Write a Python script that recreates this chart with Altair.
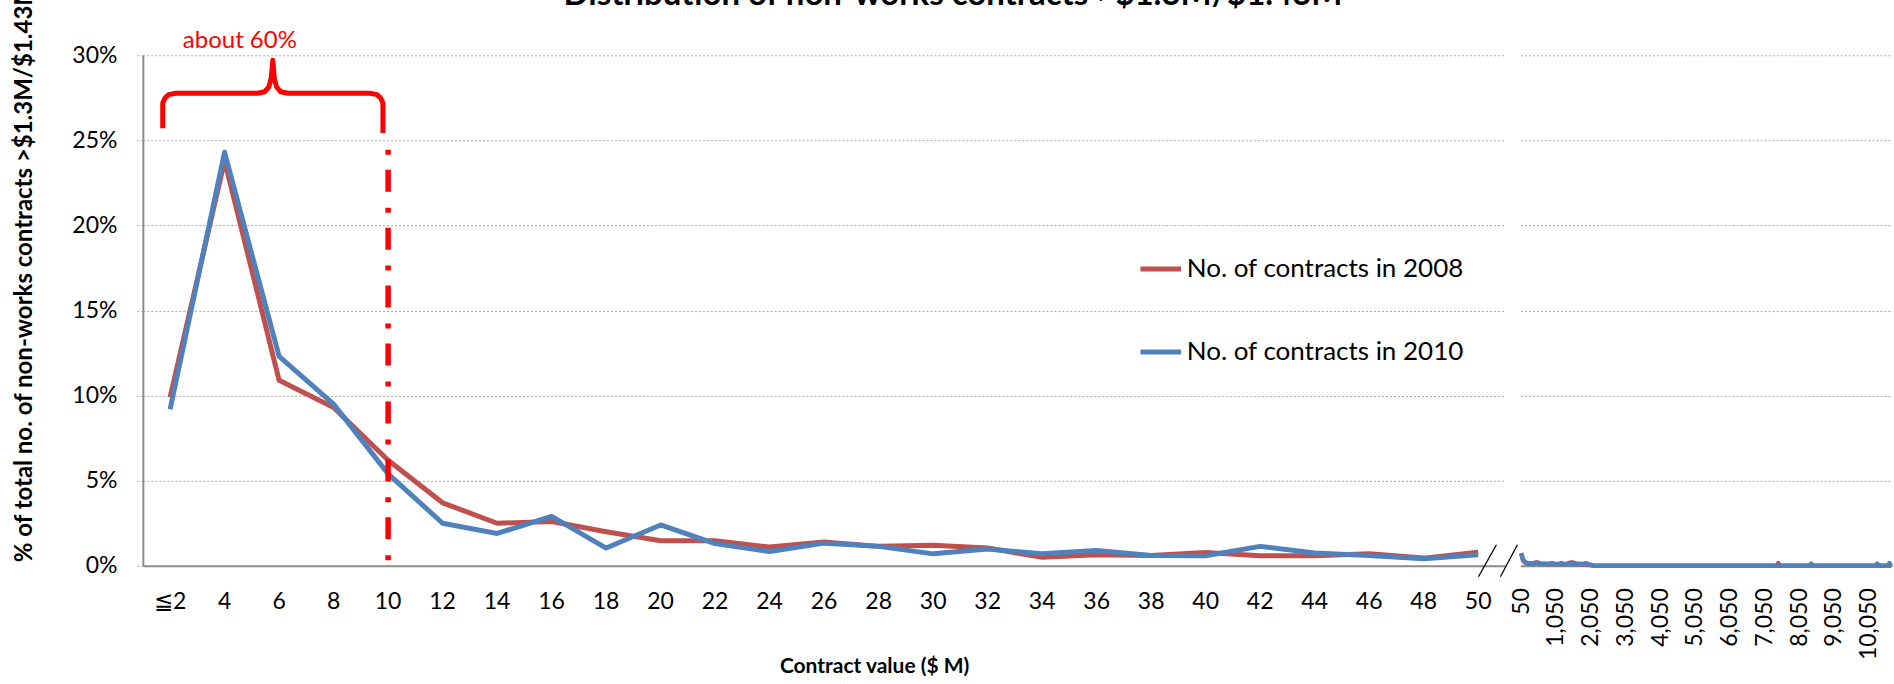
import altair as alt
import pandas as pd

SERIES = ["No. of contracts in 2008", "No. of contracts in 2010"]
COLORS = ["#C0504D", "#4F81BD"]
FONT = "Lato"

# Contract value bins up to $50M (upper bound of each bin, $M)
bins_m = [2, 4, 6, 8, 10, 12, 14, 16, 18, 20, 22, 24, 26, 28, 30,
          32, 34, 36, 38, 40, 42, 44, 46, 48, 50]
# Share of all non-works contracts above the threshold (%)
pct_2008 = [9.9, 23.8, 10.9, 9.3, 6.2, 3.7, 2.5, 2.6, 2.0, 1.47, 1.47, 1.1, 1.4,
            1.14, 1.2, 1.04, 0.5, 0.65, 0.6, 0.78, 0.59, 0.59, 0.7, 0.45, 0.8]
pct_2010 = [9.2, 24.3, 12.3, 9.5, 5.4, 2.5, 1.9, 2.9, 1.04, 2.4, 1.3, 0.84, 1.33,
            1.14, 0.7, 0.98, 0.7, 0.9, 0.6, 0.59, 1.14, 0.75, 0.6, 0.41, 0.65]

# Long tail above $50M, in $50M bins
tail_bins = list(range(50, 10701, 50))
tail_head_2008 = [0.75, 0.32, 0.20, 0.15, 0.12, 0.12, 0.10, 0.10, 0.15, 0.20,
                  0.18, 0.12, 0.10, 0.10, 0.12, 0.10, 0.08, 0.10, 0.12, 0.10,
                  0.08, 0.10, 0.10, 0.08, 0.10, 0.08, 0.10, 0.12, 0.18, 0.20,
                  0.18, 0.15, 0.10, 0.08, 0.10, 0.08, 0.08, 0.10, 0.06, 0.05,
                  0.04, 0.03]
tail_head_2010 = [0.70, 0.38, 0.22, 0.18, 0.15, 0.15, 0.12, 0.15, 0.18, 0.15,
                  0.12, 0.12, 0.10, 0.12, 0.10, 0.10, 0.12, 0.15, 0.15, 0.12,
                  0.10, 0.08, 0.12, 0.15, 0.12, 0.10, 0.10, 0.12, 0.10, 0.10,
                  0.10, 0.08, 0.10, 0.12, 0.10, 0.10, 0.12, 0.15, 0.12, 0.08,
                  0.05, 0.02]
tail_spikes_2008 = {7450: 0.15}
tail_spikes_2010 = {8400: 0.12, 10300: 0.12, 10650: 0.15}
tail_ticks = [50, 1050, 2050, 3050, 4050, 5050, 6050, 7050, 8050, 9050, 10050]

# Curly brace over the bins up to $10M (x in $M, y in %)
brace_x = [1.73, 1.73, 1.81, 1.95, 2.21, 5.22, 5.47, 5.62, 5.71, 5.77,
           5.82, 5.91, 6.06, 6.32, 9.33, 9.59, 9.73, 9.81, 9.81]
brace_y = [25.72, 27.19, 27.48, 27.69, 27.77, 27.77, 27.86, 28.13, 28.66, 29.71,
           28.66, 28.13, 27.86, 27.77, 27.77, 27.69, 27.48, 27.19, 25.43]


def tail_series(head, spikes):
    return [head[i] if i < len(head) else spikes.get(b, 0.0)
            for i, b in enumerate(tail_bins)]


left_df = pd.DataFrame({
    "bin": bins_m * 2,
    "pct": pct_2008 + pct_2010,
    "series": [SERIES[0]] * len(bins_m) + [SERIES[1]] * len(bins_m),
})
right_df = pd.DataFrame({
    "bin": tail_bins * 2,
    "pct": tail_series(tail_head_2008, tail_spikes_2008)
    + tail_series(tail_head_2010, tail_spikes_2010),
    "series": [SERIES[0]] * len(tail_bins) + [SERIES[1]] * len(tail_bins),
})
cut_df = pd.DataFrame({"bin": [10], "pct": [24.45], "pct_end": [0.0]})
brace_df = pd.DataFrame({"k": list(range(len(brace_x))), "bx": brace_x, "pct": brace_y})
note_df = pd.DataFrame({"bx": [4.56], "pct": [30.4], "label": ["about 60%"]})
one_row = pd.DataFrame({"a": [0]})

GRID = dict(grid=True, gridColor="#A6A6A6", gridDash=[2, 2], gridWidth=1)
y_scale = alt.Scale(domain=[0, 30], nice=False, zero=True)
brace_scale = alt.Scale(domain=[1, 51], nice=False, zero=False)
pct_ticks = [0, 5, 10, 15, 20, 25, 30]

color_left = alt.Color(
    "series:N",
    scale=alt.Scale(domain=SERIES, range=COLORS),
    legend=alt.Legend(
        title=None, orient="none", legendX=996, legendY=191,
        symbolType="stroke", symbolSize=1650, symbolStrokeWidth=5,
        labelFont=FONT, labelFontSize=26, labelColor="#000000", labelLimit=0,
        labelOffset=3, rowPadding=47,
    ),
)

lines_left = alt.Chart(left_df).mark_line(strokeWidth=5, strokeJoin="round").encode(
    x=alt.X("bin:O", title="Contract value ($ M)",
            axis=alt.Axis(labelExpr="datum.value == 2 ? '≦2' : datum.label",
                          labelAngle=0, labelFontSize=23, labelPadding=25,
                          ticks=False, domainColor="#8C8C8C", domainWidth=2,
                          titleFontSize=21, titleFontWeight="bold",
                          titleX=732, titleY=101, titleBaseline="middle",
                          titleAlign="center")),
    y=alt.Y("pct:Q", scale=y_scale,
            title="% of total no. of non-works contracts >$1.3M/$1.43M",
            axis=alt.Axis(values=pct_ticks, labelExpr="datum.value + '%'",
                          labelFontSize=23, labelPadding=18,
                          tickSize=8, tickColor="#A6A6A6", tickDash=[2, 2],
                          domainColor="#8C8C8C", domainWidth=2,
                          titleFontSize=24, titleFontWeight="bold",
                          titleAngle=270, titleAlign="left", titleBaseline="middle",
                          titleX=-118, titleY=507, **GRID)),
    color=color_left,
)

cutoff = alt.Chart(cut_df).mark_rule(
    color="#FF0000", strokeWidth=5.5, strokeDash=[5, 15, 22, 16]
).encode(x="bin:O", y="pct:Q", y2="pct_end:Q")

brace = alt.Chart(brace_df).mark_line(
    color="#FF0000", strokeWidth=5, strokeJoin="round"
).encode(
    x=alt.X("bx:Q", scale=brace_scale, axis=None),
    y=alt.Y("pct:Q", scale=y_scale),
    order="k:Q",
)
note = alt.Chart(note_df).mark_text(
    color="#FF0000", font=FONT, fontSize=24, baseline="alphabetic"
).encode(
    x=alt.X("bx:Q", scale=brace_scale, axis=None),
    y=alt.Y("pct:Q", scale=y_scale),
    text="label:N",
)

heading = alt.Chart(one_row).mark_text(
    text="Distribution of non-works contracts >$1.3M/$1.43M",
    font=FONT, fontSize=33, fontWeight="bold", color="#000000",
    baseline="alphabetic", align="center",
).encode(x=alt.value(811), y=alt.value(-50))

# axis-break slashes between the two panels
break_a = alt.Chart(one_row).mark_rule(color="#000000", strokeWidth=1.3).encode(
    x=alt.value(1355), y=alt.value(490), x2=alt.value(1337), y2=alt.value(522))
break_b = alt.Chart(one_row).mark_rule(color="#000000", strokeWidth=1.3).encode(
    x=alt.value(1376), y=alt.value(490), x2=alt.value(1359), y2=alt.value(522))

# invisible corner marker that fixes the top-left of the layout bounds
corner = alt.Chart(one_row).mark_rule(opacity=0, strokeWidth=0).encode(
    x=alt.value(-143), y=alt.value(-200), x2=alt.value(-143), y2=alt.value(-200))

left = alt.layer(
    alt.layer(lines_left, cutoff),
    alt.layer(brace, note),
    heading, break_a, break_b, corner,
).resolve_scale(x="independent").properties(width=1364, height=511)

right = alt.Chart(right_df).mark_line(strokeWidth=4.5, strokeJoin="round").encode(
    x=alt.X("bin:O", title=None,
            axis=alt.Axis(values=tail_ticks, labelExpr="format(datum.value, ',')",
                          labelAngle=270, labelAlign="right", labelBaseline="middle",
                          labelFontSize=23, labelPadding=22, ticks=False,
                          domainColor="#8C8C8C", domainWidth=2)),
    y=alt.Y("pct:Q", scale=y_scale,
            axis=alt.Axis(values=pct_ticks, labels=False, ticks=False, domain=False,
                          title=None, **GRID)),
    color=alt.Color("series:N", scale=alt.Scale(domain=SERIES, range=COLORS), legend=None),
).properties(width=372, height=511)

chart = alt.hconcat(left, right, spacing=15, bounds="flush").resolve_legend(
    color="independent"
).properties(
    padding={"left": 0, "top": -145, "right": 0, "bottom": 10},
).configure_view(stroke=None).configure_axis(
    labelFont=FONT, titleFont=FONT, labelColor="#000000", titleColor="#000000"
)

chart.save("out.html", embed_options={"renderer": "svg", "actions": False})
